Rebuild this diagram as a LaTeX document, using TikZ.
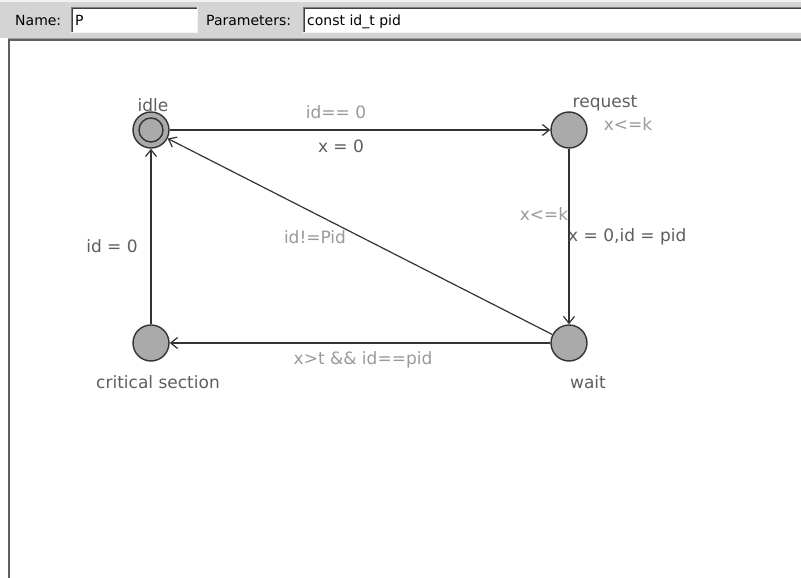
\documentclass[tikz,border=0pt]{standalone}
\usepackage{fontspec}
\setmainfont{DejaVu Sans}
\usetikzlibrary{arrows.meta}
\definecolor{panel}{HTML}{D4D4D4}
\definecolor{panellight}{HTML}{F2F2F2}
\definecolor{bevelmid}{HTML}{808080}
\definecolor{beveldark}{HTML}{404040}
\definecolor{bevellight}{HTML}{F4F4F4}
\definecolor{framemid}{HTML}{A0A0A0}
\definecolor{framedark}{HTML}{606060}
\definecolor{edgeclr}{HTML}{333333}
\definecolor{locfill}{HTML}{AAAAAA}
\definecolor{guardclr}{HTML}{9A9A9A}
\definecolor{assignclr}{HTML}{5E5E5E}
\definecolor{nameclr}{HTML}{5E5E5E}
\tikzset{
  loc/.style={circle, draw=edgeclr, fill=locfill, line width=1.4pt,
    minimum size=36pt, inner sep=0pt},
  edge/.style={draw=edgeclr, line width=1.2pt,
    -{Straight Barb[length=7pt, width=11pt, line width=1.2pt]}},
  lbl/.style={inner sep=0pt, font=\fontsize{17}{20}\selectfont},
  locname/.style={lbl, text=nameclr},
  guard/.style={lbl, text=guardclr},
  assign/.style={lbl, text=assignclr},
  hdr/.style={inner sep=0pt, anchor=base west, font=\fontsize{14}{16}\selectfont},
}
\begin{document}
\begin{tikzpicture}[x=1pt, y=-1pt]
\useasboundingbox (0,0) rectangle (801,578);
\fill[white] (0,0) rectangle (801,578);

% header bar
\fill[panel] (0,0) rectangle (801,38);
\fill[panellight] (0,0) rectangle (801,2);
% name field
\fill[white] (71,7) rectangle (198,33);
\draw[bevelmid, line width=1pt] (71.5,33) -- (71.5,7.5) -- (198,7.5);
\draw[beveldark, line width=1pt] (72.5,32) -- (72.5,8.5) -- (197,8.5);
\draw[bevellight, line width=1pt] (71,32.5) -- (197.5,32.5) -- (197.5,7);
% parameters field
\fill[white] (303,7) rectangle (801,33);
\draw[bevelmid, line width=1pt] (303.5,33) -- (303.5,7.5) -- (801,7.5);
\draw[beveldark, line width=1pt] (304.5,32) -- (304.5,8.5) -- (801,8.5);
\draw[bevellight, line width=1pt] (303,32.5) -- (801,32.5);
\node[hdr] (namelbl) at (15,26) {Name:};
\node[hdr] (nameval) at (75,26) {P};
\node[hdr] (parlbl) at (206,26) {Parameters:};
\node[hdr] (parval) at (307,26) {const id\_t pid};

% canvas frame
\fill[framemid] (8,38) rectangle (801,39);
\fill[framedark] (8,39) rectangle (801,41);
\fill[framedark] (8,39) rectangle (10,578);

% locations
\node[loc] (idle) at (151,130) {};
\draw[edgeclr, line width=1.4pt] (idle.center) circle[radius=12pt];
\node[loc] (request) at (569,130) {};
\node[loc] (wait) at (569,343) {};
\node[loc] (crit) at (151,343) {};

% location names and invariants
\node[locname, anchor=base] (idlename) at (153,111) {idle};
\node[locname, anchor=base] (reqname) at (605,107) {request};
\node[guard, anchor=base] (reqinv) at (628,130) {x<=k};
\node[locname, anchor=base] (waitname) at (588,388) {wait};
\node[locname, anchor=base] (critname) at (158,388) {critical section};

% transitions
\draw[edge] (idle) -- (request);
\draw[edge] (request) -- (wait);
\draw[edge] (wait) -- (crit);
\draw[edge] (wait) -- (idle);
\draw[edge] (crit) -- (idle);

% guards and updates
\node[guard, anchor=base] (g1) at (336,118) {id== 0};
\node[assign, anchor=base] (u1) at (341,152) {x = 0};
\node[guard, anchor=base] (i2) at (544,220) {x<=k};
\node[assign, anchor=base west] (u2) at (568,241) {x = 0,id = pid};
\node[guard, anchor=base] (g3) at (315,243) {id!=Pid};
\node[guard, anchor=base] (g4) at (363,364) {x>t \&\& id==pid};
\node[assign, anchor=base] (u5) at (112,252) {id = 0};
\end{tikzpicture}
\end{document}
